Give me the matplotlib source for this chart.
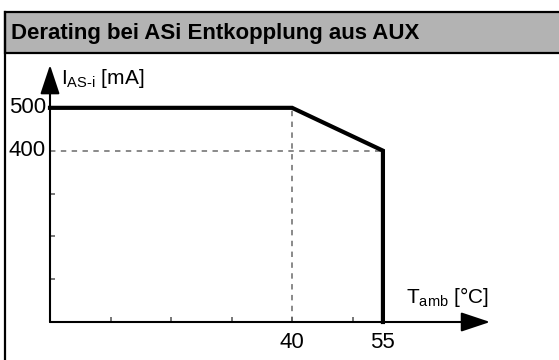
import matplotlib
matplotlib.use("Agg")
import matplotlib.pyplot as plt
from matplotlib.patches import Rectangle
from matplotlib.lines import Line2D

plt.rcParams["font.family"] = ["Liberation Sans", "DejaVu Sans"]
plt.rcParams["mathtext.fontset"] = "custom"
plt.rcParams["mathtext.rm"] = "Liberation Sans"
plt.rcParams["mathtext.it"] = "Liberation Sans"

title = "Derating bei ASi Entkopplung aus AUX"
temp = [0, 40, 55, 55]
current = [500, 500, 400, 0]
x_ticks = [10, 20, 30, 40, 50]
y_ticks = [100, 200, 300]
x_labels = [40, 55]
y_labels = [400, 500]

W, H = 559, 360
fig = plt.figure(figsize=(W / 100, H / 100), dpi=100)

# frame with grey header (cut off at right and bottom like the original)
fig.add_artist(Rectangle((5 / W, (H - 53) / H), 1.0, 41 / H, transform=fig.transFigure,
                         facecolor="#b3b3b3", edgecolor="black", lw=1.6, clip_on=False))
fig.add_artist(Line2D([5 / W, 5 / W], [-0.01, (H - 12) / H], transform=fig.transFigure,
                      color="black", lw=1.6))
fig.text(11 / W, (H - 33) / H, title, fontsize=16, fontweight="bold", va="center", ha="left")

ax = fig.add_axes([50 / W, 38 / H, 454 / W, 257 / H])
ax.set_xlim(0, 75)
ax.set_ylim(0, 600)
ax.axis("off")

# guide lines
ax.plot([temp[1], temp[1]], [0, current[1]], color="#808080", lw=1.3, ls=(0, (3, 3)))
ax.plot([0, temp[2]], [current[2], current[2]], color="#808080", lw=1.3, ls=(0, (3, 3)))

# axes with arrows
arrow = dict(arrowstyle="-|>,head_length=0.9,head_width=0.3", color="black", lw=1.5,
             mutation_scale=20, shrinkA=0, shrinkB=0)
ax.annotate("", xy=(72.7, 0), xytext=(0, 0), arrowprops=arrow, annotation_clip=False)
ax.annotate("", xy=(0, 600), xytext=(0, 0), arrowprops=arrow, annotation_clip=False)

ax.plot(x_ticks, [0] * len(x_ticks), ls="none", marker="|", ms=7, mew=1.2, color="#606060")
ax.plot([0] * len(y_ticks), y_ticks, ls="none", marker="_", ms=7, mew=1.2, color="#606060")

# derating curve
ax.plot(temp, current, color="black", lw=3, solid_joinstyle="miter", clip_on=False)

for v in y_labels:
    ax.annotate(str(v), xy=(0, v), xytext=(-3, 0), textcoords="offset points",
                ha="right", va="center", fontsize=16)
for v in x_labels:
    ax.annotate(str(v), xy=(v, 0), xytext=(0, -7), textcoords="offset points",
                ha="center", va="top", fontsize=16)

ax.text(1.8, 556, r"$\mathregular{I}_{\text{AS-i}}$ [mA]", fontsize=15, va="baseline", ha="left")
ax.text(58.8, 44, r"$\mathregular{T}_{\text{amb}}$ [°C]", fontsize=15, va="baseline", ha="left")

fig.savefig("out.png", dpi=100)
